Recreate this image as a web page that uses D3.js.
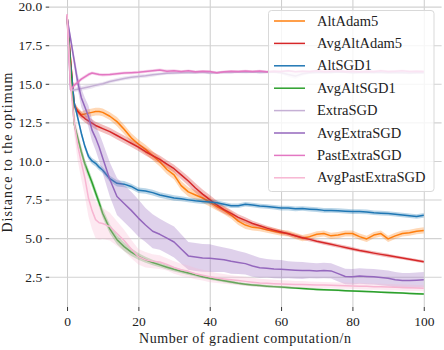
<!DOCTYPE html>
<html>
<head>
<meta charset="utf-8">
<script src="https://cdn.jsdelivr.net/npm/d3@7"></script>
<style>
	body { margin: 0; background: #fff; }
	svg { display: block; }
</style>
</head>
<body>
<div id="chart"></div>
<script>
// distance to optimum vs gradient computations

var xs = [0, 1, 2, 3, 4, 5, 6, 7, 8, 9, 10,
	12, 14, 16, 18, 20, 22, 24, 26, 28, 30,
	32, 34, 36, 38, 40, 42, 44, 46, 48, 50,
	52, 54, 56, 58, 60, 62, 64, 66, 68, 70,
	72, 74, 76, 78, 80, 82, 84, 86, 88, 90,
	92, 94, 96, 98, 100];

var names = ["AltAdam5", "AvgAltAdam5", "AltSGD1", "AvgAltSGD1",
	"ExtraSGD", "AvgExtraSGD", "PastExtraSGD", "AvgPastExtraSGD"];
var colors = ["#ff7f0e", "#d62728", "#1f77b4", "#2ca02c",
	"#c5b0d5", "#9467bd", "#e377c2", "#f7b6d2"];

var xTicks = [0, 20, 40, 60, 80, 100];
var yTicks = [2.5, 5.0, 7.5, 10.0, 12.5, 15.0, 17.5, 20.0];

var altAdam5 = [19.4, 16.5, 13.6, 13.25, 13.0, 13.05, 13.1, 13.15, 13.2, 13.2, 13.15,
	12.9, 12.55, 12.05, 11.5, 11.1, 10.75, 10.35, 9.95, 9.45, 9.1,
	8.4, 8.0, 7.8, 7.6, 7.35, 7.05, 6.8, 6.5, 6.1, 5.85,
	5.7, 5.65, 5.55, 5.45, 5.35, 5.3, 5.15, 5.0, 5.1, 5.25,
	5.3, 5.15, 5.2, 5.3, 5.3, 5.1, 4.95, 5.2, 5.3, 4.95,
	5.15, 5.3, 5.35, 5.45, 5.5];
var avgAltAdam5 = [19.4, 16.5, 13.6, 13.2, 12.95, 12.75, 12.6, 12.45, 12.3, 12.2, 12.1,
	11.9, 11.65, 11.4, 11.15, 10.9, 10.6, 10.35, 10.1, 9.8, 9.5,
	9.1, 8.7, 8.25, 7.85, 7.5, 7.15, 6.85, 6.6, 6.35, 6.15,
	5.95, 5.8, 5.65, 5.52, 5.4, 5.28, 5.15, 5.03, 4.92, 4.8,
	4.7, 4.6, 4.5, 4.4, 4.3, 4.2, 4.12, 4.03, 3.95, 3.87,
	3.79, 3.71, 3.63, 3.55, 3.47];
var altSGD1 = [19.4, 16.3, 13.8, 12.8, 11.8, 10.95, 10.3, 10.0, 9.85, 9.6, 9.4,
	8.85, 8.55, 8.5, 8.35, 8.1, 8.05, 7.95, 7.8, 7.7, 7.6,
	7.55, 7.48, 7.42, 7.38, 7.35, 7.3, 7.2, 7.1, 7.1, 7.2,
	7.15, 7.08, 7.05, 7.0, 6.95, 6.95, 6.9, 6.92, 6.88, 6.85,
	6.8, 6.8, 6.78, 6.75, 6.72, 6.72, 6.7, 6.65, 6.62, 6.6,
	6.55, 6.5, 6.45, 6.4, 6.48];
var avgAltSGD1 = [19.4, 16.0, 12.4, 11.5, 10.6, 9.8, 9.2, 8.6, 7.95, 7.3, 6.6,
	5.6, 4.9, 4.45, 4.1, 3.82, 3.6, 3.42, 3.27, 3.12, 2.98,
	2.86, 2.74, 2.62, 2.5, 2.4, 2.32, 2.24, 2.16, 2.08, 2.02,
	1.97, 1.93, 1.89, 1.86, 1.83, 1.8, 1.77, 1.74, 1.71, 1.68,
	1.66, 1.64, 1.62, 1.6, 1.58, 1.56, 1.54, 1.52, 1.5, 1.48,
	1.46, 1.44, 1.42, 1.4, 1.38];
var extraSGD = [19.4, 14.6, 14.6, 14.65, 14.7, 14.75, 14.8, 14.85, 14.9, 14.95, 15.0,
	15.15, 15.25, 15.35, 15.42, 15.48, 15.52, 15.58, 15.64, 15.68, 15.7,
	15.72, 15.74, 15.72, 15.75, 15.7, 15.72, 15.75, 15.74, 15.76, 15.75,
	15.76, 15.74, 15.75, 15.76, 15.72, 15.6, 15.5, 15.65, 15.72, 15.74,
	15.75, 15.74, 15.76, 15.75, 15.72, 15.74, 15.75, 15.73, 15.74, 15.72,
	15.74, 15.72, 15.7, 15.72, 15.72];
var avgExtraSGD = [19.3, 17.9, 16.5, 15.1, 14.1, 13.5, 12.9, 12.0, 11.5, 10.9, 10.2,
	8.8, 7.7, 7.25, 6.8, 6.3, 5.85, 5.45, 5.25, 5.0, 4.75,
	4.3, 3.85, 3.78, 3.72, 3.7, 3.65, 3.6, 3.5, 3.42, 3.35,
	3.2, 3.08, 3.05, 3.0, 2.98, 2.95, 2.92, 2.9, 2.9, 2.88,
	2.9, 2.88, 2.7, 2.52, 2.5, 2.55, 2.52, 2.5, 2.45, 2.4,
	2.3, 2.25, 2.25, 2.28, 2.3];
var pastExtraSGD = [19.5, 14.6, 14.9, 15.1, 15.3, 15.45, 15.6, 15.7, 15.65, 15.6, 15.58,
	15.6, 15.65, 15.7, 15.72, 15.75, 15.8, 15.85, 15.9, 15.82, 15.85,
	15.8, 15.85, 15.78, 15.82, 15.8, 15.72, 15.78, 15.82, 15.8, 15.83,
	15.8, 15.83, 15.78, 15.82, 15.8, 15.84, 15.78, 15.82, 15.8, 15.84,
	15.8, 15.82, 15.84, 15.8, 15.82, 15.78, 15.82, 15.8, 15.84, 15.8,
	15.82, 15.85, 15.8, 15.82, 15.8];
var avgPastExtraSGD = [19.5, 15.0, 12.5, 11.0, 9.9, 8.9, 7.6, 6.8, 6.2, 6.0, 5.95,
	5.75, 5.3, 4.85, 4.3, 3.8, 3.6, 3.5, 3.45, 3.3, 3.1,
	2.95, 2.85, 2.7, 2.6, 2.5, 2.42, 2.36, 2.3, 2.25, 2.2,
	2.15, 2.1, 2.08, 2.05, 2.03, 2.02, 2.0, 2.0, 1.98, 1.97,
	1.96, 1.95, 1.93, 1.92, 1.9, 1.89, 1.88, 1.86, 1.85, 1.83,
	1.82, 1.8, 1.78, 1.77, 1.75];

// half widths of the shaded bands
var altAdam5Spread = [0, 0.2, 0.2, 0.2, 0.2, 0.25, 0.25, 0.25, 0.25, 0.25, 0.25,
	0.25, 0.3, 0.3, 0.3, 0.3, 0.3, 0.3, 0.3, 0.3, 0.3,
	0.3, 0.3, 0.3, 0.3, 0.3, 0.25, 0.25, 0.25, 0.25, 0.25,
	0.2, 0.2, 0.2, 0.2, 0.2, 0.2, 0.2, 0.2, 0.2, 0.2,
	0.2, 0.2, 0.2, 0.2, 0.2, 0.2, 0.2, 0.2, 0.2, 0.2,
	0.2, 0.2, 0.2, 0.2, 0.2];
var avgAltAdam5Spread = [0, 0.25, 0.25, 0.25, 0.25, 0.25, 0.25, 0.25, 0.25, 0.25, 0.25,
	0.25, 0.25, 0.25, 0.25, 0.25, 0.25, 0.25, 0.25, 0.25, 0.25,
	0.28, 0.3, 0.3, 0.3, 0.3, 0.28, 0.25, 0.22, 0.2, 0.2,
	0.18, 0.17, 0.16, 0.15, 0.15, 0.14, 0.14, 0.13, 0.13, 0.12,
	0.12, 0.12, 0.12, 0.12, 0.12, 0.12, 0.12, 0.12, 0.12, 0.12,
	0.1, 0.1, 0.1, 0.1, 0.1];
var altSGD1Spread = [0, 0.2, 0.2, 0.2, 0.2, 0.2, 0.2, 0.2, 0.2, 0.2, 0.2,
	0.2, 0.2, 0.2, 0.18, 0.18, 0.18, 0.18, 0.18, 0.18, 0.18,
	0.16, 0.16, 0.16, 0.16, 0.16, 0.15, 0.15, 0.15, 0.15, 0.15,
	0.15, 0.15, 0.15, 0.15, 0.15, 0.15, 0.15, 0.15, 0.15, 0.15,
	0.15, 0.15, 0.15, 0.15, 0.15, 0.15, 0.15, 0.15, 0.15, 0.15,
	0.15, 0.15, 0.15, 0.15, 0.15];
var avgAltSGD1Spread = [0, 0.3, 0.3, 0.3, 0.3, 0.3, 0.3, 0.3, 0.3, 0.3, 0.3,
	0.3, 0.3, 0.28, 0.25, 0.22, 0.2, 0.18, 0.16, 0.15, 0.14,
	0.13, 0.12, 0.11, 0.1, 0.1, 0.1, 0.09, 0.09, 0.08, 0.08,
	0.08, 0.08, 0.08, 0.07, 0.07, 0.07, 0.07, 0.07, 0.07, 0.07,
	0.06, 0.06, 0.06, 0.06, 0.06, 0.06, 0.06, 0.06, 0.06, 0.06,
	0.06, 0.06, 0.06, 0.06, 0.06];
var extraSGDSpread = [0, 0.15, 0.15, 0.15, 0.15, 0.15, 0.15, 0.15, 0.12, 0.12, 0.12,
	0.12, 0.12, 0.12, 0.12, 0.12, 0.12, 0.12, 0.1, 0.1, 0.1,
	0.08, 0.08, 0.08, 0.08, 0.08, 0.08, 0.08, 0.08, 0.08, 0.08,
	0.08, 0.08, 0.08, 0.08, 0.1, 0.15, 0.18, 0.12, 0.08, 0.08,
	0.08, 0.08, 0.08, 0.08, 0.08, 0.08, 0.08, 0.08, 0.08, 0.08,
	0.08, 0.08, 0.08, 0.08, 0.08];
var avgExtraSGDSpread = [0, 0.3, 0.4, 0.5, 0.6, 0.6, 0.7, 0.7, 0.8, 0.9, 1.0,
	1.1, 1.2, 1.2, 1.2, 1.2, 1.1, 1.1, 1.0, 1.0, 1.0,
	0.95, 0.9, 0.9, 0.9, 0.9, 0.85, 0.8, 0.8, 0.75, 0.7,
	0.7, 0.65, 0.6, 0.6, 0.6, 0.55, 0.55, 0.55, 0.5, 0.5,
	0.5, 0.5, 0.5, 0.5, 0.5, 0.5, 0.5, 0.5, 0.5, 0.5,
	0.5, 0.5, 0.5, 0.5, 0.5];
var pastExtraSGDSpread = [0, 0.15, 0.15, 0.15, 0.12, 0.12, 0.12, 0.1, 0.1, 0.1, 0.1,
	0.1, 0.1, 0.1, 0.1, 0.1, 0.1, 0.1, 0.1, 0.1, 0.1,
	0.08, 0.08, 0.08, 0.08, 0.08, 0.08, 0.08, 0.08, 0.08, 0.08,
	0.08, 0.08, 0.08, 0.08, 0.08, 0.08, 0.08, 0.08, 0.08, 0.08,
	0.08, 0.08, 0.08, 0.08, 0.08, 0.08, 0.08, 0.08, 0.08, 0.08,
	0.08, 0.08, 0.08, 0.08, 0.08];
var avgPastExtraSGDSpread = [0, 0.5, 0.8, 1.0, 1.1, 1.2, 1.2, 1.2, 1.2, 1.1, 1.0,
	0.9, 0.8, 0.7, 0.6, 0.5, 0.5, 0.45, 0.45, 0.4, 0.4,
	0.4, 0.38, 0.36, 0.35, 0.35, 0.33, 0.32, 0.3, 0.3, 0.3,
	0.28, 0.27, 0.26, 0.25, 0.25, 0.24, 0.23, 0.22, 0.22, 0.21,
	0.2, 0.2, 0.2, 0.2, 0.2, 0.2, 0.2, 0.2, 0.2, 0.2,
	0.2, 0.2, 0.2, 0.2, 0.2];

var seriesValues = [altAdam5, avgAltAdam5, altSGD1, avgAltSGD1,
	extraSGD, avgExtraSGD, pastExtraSGD, avgPastExtraSGD];
var seriesSpreads = [altAdam5Spread, avgAltAdam5Spread, altSGD1Spread, avgAltSGD1Spread,
	extraSGDSpread, avgExtraSGDSpread, pastExtraSGDSpread, avgPastExtraSGDSpread];

var serifFont = "Liberation Serif";

drawChart();

function drawChart() {
	var width = 444,
		height = 350,
		left = 49.2,
		right = 441.6,
		top = 0,
		bottom = 307;

	var svg = d3.select("#chart")
		.append("svg")
		.attr("width", width)
		.attr("height", height)
		.attr("font-family", serifFont);

	var x = d3.scaleLinear().domain([-5, 105]).range([left, right]);
	var y = d3.scaleLinear().domain([0.54, 20.43]).range([bottom, top]);

	// grid
	svg.append("g")
		.attr("transform", "translate(0," + bottom + ")")
		.call(d3.axisBottom(x).tickValues(xTicks).tickSize(-(bottom - top)).tickFormat(""))
		.call(function(g) {
			g.select(".domain").remove();
			g.selectAll("line").attr("stroke", "#cccccc").attr("stroke-width", 1);
		});
	svg.append("g")
		.attr("transform", "translate(" + left + ",0)")
		.call(d3.axisLeft(y).tickValues(yTicks).tickSize(-(right - left)).tickFormat(""))
		.call(function(g) {
			g.select(".domain").remove();
			g.selectAll("line").attr("stroke", "#d2d2d2").attr("stroke-width", 1.1);
		});

	// axes
	svg.append("g")
		.attr("transform", "translate(0," + bottom + ")")
		.call(d3.axisBottom(x).tickValues(xTicks).tickSize(4).tickPadding(5).tickFormat(d3.format("d")))
		.attr("font-family", serifFont)
		.attr("font-size", 13.5)
		.call(function(g) {
			g.select(".domain").remove();
			g.selectAll("line").attr("stroke", "#333");
			g.selectAll("text").attr("fill", "#222");
		});
	svg.append("g")
		.attr("transform", "translate(" + left + ",0)")
		.call(d3.axisLeft(y).tickValues(yTicks).tickSize(3.5).tickPadding(3.5).tickFormat(d3.format(".1f")))
		.attr("font-family", serifFont)
		.attr("font-size", 13.5)
		.call(function(g) {
			g.select(".domain").remove();
			g.selectAll("line").attr("stroke", "#333");
			g.selectAll("text").attr("fill", "#222");
		});

	svg.append("text")
		.attr("x", 245)
		.attr("y", 343)
		.attr("text-anchor", "middle")
		.attr("font-size", 14)
		.attr("fill", "#222")
		.attr("textLength", 212)
		.text("Number of gradient computation/n");

	svg.append("text")
		.attr("transform", "translate(12,152.5) rotate(-90)")
		.attr("text-anchor", "middle")
		.attr("font-size", 14)
		.attr("fill", "#222")
		.attr("textLength", 160)
		.text("Distance to the optimum");

	var plot = svg.append("g");

	var area = d3.area()
		.x(function(d) { return x(d.x); })
		.y0(function(d) { return y(d.v - d.s); })
		.y1(function(d) { return y(d.v + d.s); });
	var line = d3.line()
		.x(function(d) { return x(d.x); })
		.y(function(d) { return y(d.v); });

	seriesValues.forEach(function(vals, k) {
		var pts = xs.map(function(xv, i) {
			return { x: xv, v: vals[i], s: seriesSpreads[k][i] };
		});
		plot.append("path")
			.datum(pts)
			.attr("d", area)
			.attr("fill", colors[k])
			.attr("fill-opacity", 0.3)
			.attr("stroke", "none");
		plot.append("path")
			.datum(pts)
			.attr("d", line)
			.attr("fill", "none")
			.attr("stroke", colors[k])
			.attr("stroke-width", 1.5)
			.attr("stroke-linejoin", "round");
	});

	// legend
	var legend = svg.append("g");
	legend.append("rect")
		.attr("x", 268.5)
		.attr("y", 10.5)
		.attr("width", 165.5)
		.attr("height", 181)
		.attr("rx", 3)
		.attr("fill", "#ffffff")
		.attr("fill-opacity", 0.8)
		.attr("stroke", "#d9d9d9");

	var rows = legend.selectAll(".row")
		.data(names)
		.enter().append("g")
		.attr("class", "row")
		.attr("transform", function(d, i) {
			return "translate(0," + (21 + i * 22.4) + ")";
		});
	rows.append("line")
		.attr("x1", 274)
		.attr("x2", 305)
		.attr("stroke", function(d, i) { return colors[i]; })
		.attr("stroke-width", 1.5);
	rows.append("text")
		.attr("x", 317)
		.attr("y", 4.5)
		.attr("font-size", 14.5)
		.attr("fill", "#222")
		.text(function(d) { return d; });
}
</script>
</body>
</html>
